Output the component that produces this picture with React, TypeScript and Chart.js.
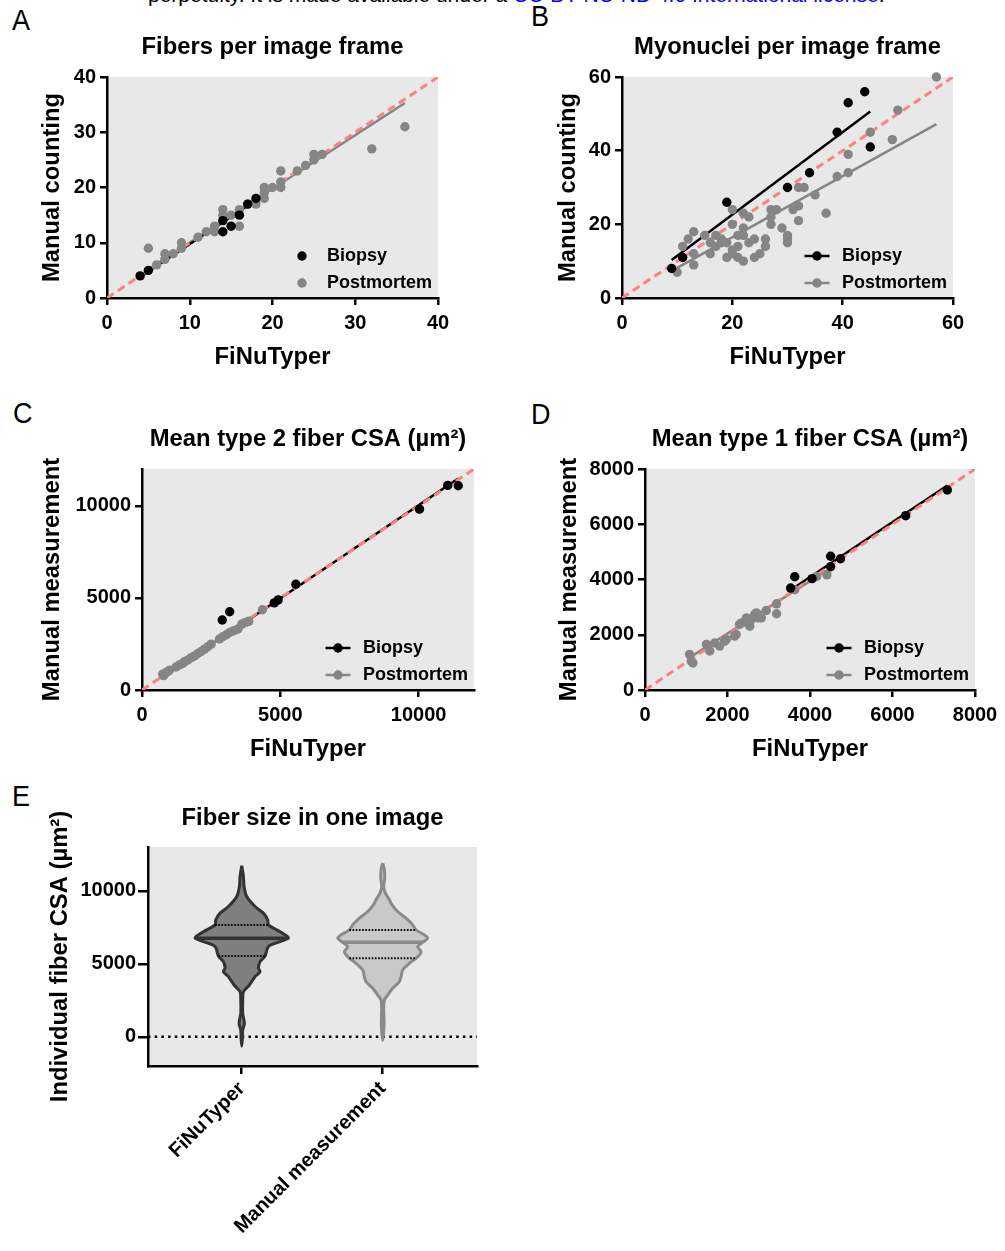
import React, { useEffect, useRef } from "react";
import { Chart, registerables } from "chart.js";

Chart.register(...registerables);

const FONT = "'Liberation Sans', Arial, Helvetica, sans-serif";
const TITLE_SIZE = 23.8;
const TITLE_LH = TITLE_SIZE * 1.2;
const TICK_SIZE = 20;
const LEGEND_SIZE = 18;
const BG = "#e8e8e8";
const BIOPSY_COLOR = "#000000";
const POST_COLOR = "#858585";
const IDENTITY_COLOR = "#ff8080";

// ---------- Panel A: fibers per image frame ----------
const fibersTicks = [0, 10, 20, 30, 40];
const fibersBiopsyX = [4, 5, 14, 14, 15, 16, 17, 18];
const fibersBiopsyY = [4, 5, 14, 12, 13, 15, 17, 18];
const fibersPostX = [5, 6, 7, 7, 8, 9, 9, 11, 12, 13, 13, 14, 14, 15, 16, 16, 17, 18, 19, 19, 19, 20, 21, 21, 21, 23, 24, 25, 25, 26, 32, 36];
const fibersPostY = [9, 6, 8, 7, 8, 10, 9, 11, 12, 13, 12, 16, 15, 15, 16, 13, 17, 17, 18, 20, 19, 20, 20, 21, 23, 23, 24, 26, 25, 26, 27, 31];
const fibersBiopsyFitX = [4, 18];
const fibersBiopsyFitY = [3.8, 17.7];
const fibersPostFitX = [5, 36];
const fibersPostFitY = [5.2, 35.3];

// ---------- Panel B: myonuclei per image frame ----------
const myoTicks = [0, 20, 40, 60];
const myoBiopsyX = [9, 11, 19, 30, 34, 39, 41, 44, 45];
const myoBiopsyY = [8, 11, 26, 30, 34, 45, 53, 56, 41];
const myoPostX = [10, 11, 12, 13, 13, 13, 15, 16, 16, 17, 17, 18, 18, 19, 19, 20, 20, 20, 20, 21, 21, 21, 22, 22, 22, 22, 23, 23, 24, 24, 25, 26, 26, 27, 27, 27, 28, 29, 30, 30, 30, 31, 32, 32, 32, 33, 35, 37, 39, 41, 41, 45, 49, 50, 57];
const myoPostY = [7, 14, 16, 18, 12, 9, 17, 15, 12, 17, 14, 16, 15, 15, 11, 24, 20, 13, 12, 17, 14, 11, 23, 19, 17, 10, 22, 15, 16, 11, 12, 16, 14, 24, 22, 20, 24, 19, 17, 16, 15, 24, 30, 25, 21, 30, 28, 23, 33, 34, 39, 45, 43, 51, 60];
const myoBiopsyFitX = [9, 45];
const myoBiopsyFitY = [10.3, 50.6];
const myoPostFitX = [10, 57];
const myoPostFitY = [8.2, 47.2];

// ---------- Panel C: mean type 2 fiber CSA ----------
const type2Ticks = [0, 5000, 10000];
const type2BiopsyX = [2900, 3170, 4780, 4920, 5560, 10030, 11050, 11430];
const type2BiopsyY = [3800, 4250, 4730, 4890, 5740, 9820, 11110, 11090];
const type2PostX = [750, 780, 870, 930, 990, 1230, 1350, 1470, 1530, 1650, 1780, 1900, 2020, 2140, 2260, 2380, 2500, 2800, 2920, 3050, 3170, 3320, 3470, 3610, 3740, 3860, 4350];
const type2PostY = [860, 780, 950, 1000, 1070, 1250, 1360, 1440, 1530, 1620, 1760, 1850, 1980, 2090, 2220, 2350, 2490, 2770, 2890, 3000, 3130, 3220, 3310, 3580, 3670, 3730, 4360];
const type2BiopsyFitX = [2900, 11430];
const type2BiopsyFitY = [2850, 11480];
const type2PostFitX = [750, 4350];
const type2PostFitY = [740, 4330];

// ---------- Panel D: mean type 1 fiber CSA ----------
const type1Ticks = [0, 2000, 4000, 6000, 8000];
const type1BiopsyX = [3530, 3630, 4050, 4500, 4500, 4740, 6320, 7330];
const type1BiopsyY = [3690, 4100, 4030, 4460, 4840, 4750, 6310, 7240];
const type1PostX = [1080, 1120, 1160, 1490, 1570, 1690, 1810, 1930, 1970, 2170, 2210, 2290, 2340, 2420, 2460, 2540, 2580, 2660, 2700, 2740, 2820, 2940, 3190, 3190, 3630, 4160, 4410];
const type1PostY = [1290, 1050, 980, 1650, 1410, 1700, 1590, 1770, 1830, 1950, 2010, 2370, 2430, 2490, 2610, 2310, 2550, 2730, 2790, 2610, 2610, 2880, 3120, 2760, 3630, 4110, 4170];
const type1BiopsyFitX = [3530, 7330];
const type1BiopsyFitY = [3620, 7400];
const type1PostFitX = [1080, 4410];
const type1PostFitY = [1170, 4330];

// ---------- Panel E: fiber size violins ----------
const violinCategories = ["FiNuTyper", "Manual measurement"];
const violinTicks = [0, 5000, 10000];
const finuLevels = [11715, 10981, 10295, 9608, 8922, 8469, 8009, 7666, 7323, 6980, 6753, 6520, 6177, 5538, 5147, 4694, 4461, 4118, 3548, 3088, 2519, 1606, 920, 460, -110, -638];
const finuDensity = [0, 0.036, 0.05, 0.107, 0.286, 0.464, 0.557, 0.571, 0.75, 0.929, 1, 0.821, 0.571, 0.5, 0.393, 0.357, 0.393, 0.286, 0.164, 0.036, 0.021, 0.021, 0.057, 0.021, 0.014, 0];
const manualLevels = [11898, 11441, 10869, 10297, 9839, 9382, 9039, 8581, 8124, 7666, 7323, 6980, 6751, 6477, 6179, 5836, 5607, 5378, 5035, 4578, 4120, 3777, 3320, 2862, 2519, 1947, 1032, 345, -250];
const manualDensity = [0, 0.036, 0.043, 0.021, 0.057, 0.143, 0.2, 0.321, 0.5, 0.643, 0.714, 0.893, 0.964, 0.857, 0.75, 0.821, 0.786, 0.714, 0.571, 0.429, 0.393, 0.357, 0.214, 0.107, 0.036, 0.021, 0.029, 0.021, 0];
// [value, relative half width]
const finuMedian = [6753, 1];
const finuQuartiles = [[7666, 0.571], [5538, 0.5]];
const manualMedian = [6477, 0.857];
const manualQuartiles = [[7323, 0.714], [5378, 0.714]];

const VIOLIN_HALF = 0.331;

type Box = { left: number; top: number; width: number; height: number };
type Plot = { l: number; t: number; r: number; b: number };
type Geom = { canvas: Box; plot: Plot; titleY: number; yTitleX: number; xTitleY?: number };

const plotBg = {
  id: "plotBg",
  beforeDraw(chart: any) {
    const { ctx, chartArea: a } = chart;
    ctx.save();
    ctx.fillStyle = BG;
    ctx.fillRect(a.left, a.top, a.right - a.left, a.bottom - a.top);
    ctx.restore();
  },
};

const insideLegend = {
  id: "insideLegend",
  afterDatasetsDraw(chart: any, _args: any, opts: any) {
    if (!opts || !opts.show) return;
    const { ctx, chartArea } = chart;
    const items = chart.data.datasets.filter((d: any) => d.label);
    ctx.save();
    ctx.font = `bold ${LEGEND_SIZE}px ${FONT}`;
    ctx.textBaseline = "middle";
    ctx.textAlign = "left";
    items.forEach((d: any, i: number) => {
      const y = chartArea.bottom - 42 + i * 27;
      const mx = chartArea.right - 136;
      if (opts.lines) {
        ctx.strokeStyle = d.backgroundColor;
        ctx.lineWidth = 2.5;
        ctx.beginPath();
        ctx.moveTo(mx - 12.5, y);
        ctx.lineTo(mx + 12.5, y);
        ctx.stroke();
      }
      ctx.fillStyle = d.backgroundColor;
      ctx.beginPath();
      ctx.arc(mx, y, 4.7, 0, Math.PI * 2);
      ctx.fill();
      ctx.fillStyle = "#000";
      ctx.fillText(d.label, chartArea.right - 111, y);
    });
    ctx.restore();
  },
};

const titleFont = { family: FONT, size: TITLE_SIZE, weight: "bold" as const };

function axisCommon(tickValues: number[], fmt: (v: number) => string, pad: number) {
  return {
    afterBuildTicks: (s: any) => {
      s.ticks = tickValues.map((v) => ({ value: v }));
    },
    ticks: {
      color: "#000",
      font: { family: FONT, size: TICK_SIZE, weight: "bold" as const },
      padding: pad,
      autoSkip: false,
      callback: (v: any) => fmt(Number(v)),
    },
    grid: { display: true, drawOnChartArea: false, drawTicks: true, tickLength: 7, color: "#000", lineWidth: 2.5 },
    border: { display: true, color: "#000", width: 2.5 },
  };
}

function frameOptions(g: Geom, title: string, x: any, y: any, xTitle: string | null, yTitle: string, extraPlugins: any) {
  const c = g.canvas;
  const p = g.plot;
  const tTop = g.titleY - TITLE_LH / 2 - c.top;
  const tBottom = p.t - c.top - tTop - TITLE_LH;
  return {
    animation: false,
    responsive: false,
    maintainAspectRatio: false,
    devicePixelRatio: 1,
    events: [],
    layout: { padding: { left: 0, top: 0, bottom: 0, right: c.left + c.width - p.r } },
    plugins: {
      legend: { display: false },
      tooltip: { enabled: false },
      title: { display: true, text: title, fullSize: false, color: "#000", font: titleFont, padding: { top: tTop, bottom: tBottom } },
      ...extraPlugins,
    },
    scales: {
      x: {
        type: "linear",
        position: "bottom",
        ...x,
        afterFit: (s: any) => {
          s.height = c.top + c.height - p.b;
        },
        title: xTitle
          ? {
              display: true,
              text: xTitle,
              color: "#000",
              font: titleFont,
              padding: { top: 0, bottom: c.top + c.height - (g.xTitleY as number) - TITLE_LH / 2 },
            }
          : { display: false },
      },
      y: {
        type: "linear",
        position: "left",
        ...y,
        afterFit: (s: any) => {
          s.width = p.l - c.left;
        },
        title: {
          display: true,
          text: yTitle,
          color: "#000",
          font: titleFont,
          padding: { top: g.yTitleX - c.left - TITLE_LH / 2, bottom: 0 },
        },
      },
    },
  };
}

const zip = (xs: number[], ys: number[]) => xs.map((x, i) => ({ x, y: ys[i] }));

type ScatterSpec = {
  geom: Geom;
  title: string;
  xTitle: string;
  yTitle: string;
  max: number;
  ticks: number[];
  bx: number[];
  by: number[];
  px: number[];
  py: number[];
  bfx: number[];
  bfy: number[];
  pfx: number[];
  pfy: number[];
  legendLines: boolean;
};

function scatterConfig(s: ScatterSpec) {
  const fmt = (v: number) => String(v);
  const datasets = [
    { label: "Biopsy", data: zip(s.bx, s.by), backgroundColor: BIOPSY_COLOR, borderColor: BIOPSY_COLOR, pointRadius: 4.7, pointBorderWidth: 0, showLine: false, order: 0, clip: false },
    { label: "Postmortem", data: zip(s.px, s.py), backgroundColor: POST_COLOR, borderColor: POST_COLOR, pointRadius: 4.7, pointBorderWidth: 0, showLine: false, order: 0, clip: false },
    { data: zip([0, s.max], [0, s.max]), showLine: true, borderColor: IDENTITY_COLOR, borderWidth: 3, borderDash: [8, 5], pointRadius: 0, order: 1 },
    { data: zip(s.bfx, s.bfy), showLine: true, borderColor: BIOPSY_COLOR, borderWidth: 2.5, pointRadius: 0, order: 2 },
    { data: zip(s.pfx, s.pfy), showLine: true, borderColor: POST_COLOR, borderWidth: 2.5, pointRadius: 0, order: 2 },
  ];
  const x = { min: 0, max: s.max, ...axisCommon(s.ticks, fmt, 6) };
  const y = { min: 0, max: s.max, ...axisCommon(s.ticks, fmt, 4) };
  return {
    type: "scatter",
    data: { datasets },
    options: frameOptions(s.geom, s.title, x, y, s.xTitle, s.yTitle, { insideLegend: { show: true, lines: s.legendLines } }),
    plugins: [plotBg, insideLegend],
  };
}

function violinOutline(center: number, levels: number[], density: number[]) {
  const right = levels.map((v, i) => ({ x: center + density[i] * VIOLIN_HALF, y: v }));
  const left = levels.map((v, i) => ({ x: center - density[i] * VIOLIN_HALF, y: v })).reverse();
  return [...right, ...left.slice(1)];
}

function hLine(center: number, value: number, rel: number) {
  return [
    { x: center - rel * VIOLIN_HALF, y: value },
    { x: center + rel * VIOLIN_HALF, y: value },
  ];
}

const violinGeom: Geom = {
  canvas: { left: 20, top: 780, width: 480, height: 471 },
  plot: { l: 148, t: 847, r: 477, b: 1066 },
  titleY: 818,
  yTitleX: 60,
};
const VX_MIN = -0.665;
const VX_MAX = 1.669;

function violinConfig() {
  const datasets: any[] = [
    { data: violinOutline(0, finuLevels, finuDensity), showLine: true, fill: "shape", backgroundColor: "#7f7f7f", borderColor: "#333333", borderWidth: 3, tension: 0.3, pointRadius: 0, order: 3 },
    { data: violinOutline(1, manualLevels, manualDensity), showLine: true, fill: "shape", backgroundColor: "#c9c9c9", borderColor: "#8a8a8a", borderWidth: 3, tension: 0.3, pointRadius: 0, order: 3 },
    { data: hLine(0, finuMedian[0], finuMedian[1]), showLine: true, borderColor: "#333333", borderWidth: 3.5, pointRadius: 0, order: 1 },
    { data: hLine(1, manualMedian[0], manualMedian[1]), showLine: true, borderColor: "#8a8a8a", borderWidth: 3.5, pointRadius: 0, order: 1 },
    ...finuQuartiles.map((q) => ({ data: hLine(0, q[0], q[1]), showLine: true, borderColor: "#000", borderWidth: 2, borderDash: [1.6, 1.6], pointRadius: 0, order: 0 })),
    ...manualQuartiles.map((q) => ({ data: hLine(1, q[0], q[1]), showLine: true, borderColor: "#000", borderWidth: 2, borderDash: [1.6, 1.6], pointRadius: 0, order: 0 })),
    { data: [{ x: VX_MIN, y: 0 }, { x: VX_MAX, y: 0 }], showLine: true, borderColor: "#000", borderWidth: 2.5, borderDash: [2.5, 4.2], pointRadius: 0, order: 5 },
  ];
  const xCommon = axisCommon([0, 1], (v) => violinCategories[v] ?? "", 3);
  const x = {
    min: VX_MIN,
    max: VX_MAX,
    ...xCommon,
    ticks: { ...xCommon.ticks, maxRotation: 45, minRotation: 45 },
    grid: { ...xCommon.grid, tickLength: 8 },
  };
  const yCommon = axisCommon(violinTicks, (v) => String(v), 2);
  const y = { min: -2000, max: 13000, ...yCommon, grid: { ...yCommon.grid, tickLength: 10 } };
  return {
    type: "scatter",
    data: { datasets },
    options: frameOptions(violinGeom, "Fiber size in one image", x, y, null, "Individual fiber CSA (µm²)", {}),
    plugins: [plotBg],
  };
}

function ChartCanvas({ box, make }: { box: Box; make: () => any }) {
  const ref = useRef<HTMLCanvasElement | null>(null);
  useEffect(() => {
    const chart = new Chart(ref.current as HTMLCanvasElement, make());
    return () => chart.destroy();
  }, []);
  return (
    <canvas
      ref={ref}
      width={box.width}
      height={box.height}
      style={{ position: "absolute", left: box.left, top: box.top, width: box.width, height: box.height }}
    />
  );
}

const geomA: Geom = { canvas: { left: 20, top: 20, width: 460, height: 360 }, plot: { l: 107, t: 77, r: 438, b: 298 }, titleY: 47, yTitleX: 52.5, xTitleY: 357 };
const geomB: Geom = { canvas: { left: 530, top: 20, width: 460, height: 360 }, plot: { l: 622, t: 77, r: 953, b: 298 }, titleY: 47, yTitleX: 568.5, xTitleY: 357 };
const geomC: Geom = { canvas: { left: 20, top: 405, width: 470, height: 365 }, plot: { l: 142, t: 469, r: 474, b: 690 }, titleY: 439, yTitleX: 52.5, xTitleY: 749 };
const geomD: Geom = { canvas: { left: 530, top: 405, width: 475, height: 365 }, plot: { l: 645, t: 469, r: 975, b: 690 }, titleY: 439, yTitleX: 569, xTitleY: 749 };

const panelA = () =>
  scatterConfig({ geom: geomA, title: "Fibers per image frame", xTitle: "FiNuTyper", yTitle: "Manual counting", max: 40, ticks: fibersTicks, bx: fibersBiopsyX, by: fibersBiopsyY, px: fibersPostX, py: fibersPostY, bfx: fibersBiopsyFitX, bfy: fibersBiopsyFitY, pfx: fibersPostFitX, pfy: fibersPostFitY, legendLines: false });
const panelB = () =>
  scatterConfig({ geom: geomB, title: "Myonuclei per image frame", xTitle: "FiNuTyper", yTitle: "Manual counting", max: 60, ticks: myoTicks, bx: myoBiopsyX, by: myoBiopsyY, px: myoPostX, py: myoPostY, bfx: myoBiopsyFitX, bfy: myoBiopsyFitY, pfx: myoPostFitX, pfy: myoPostFitY, legendLines: true });
const panelC = () =>
  scatterConfig({ geom: geomC, title: "Mean type 2 fiber CSA (µm²)", xTitle: "FiNuTyper", yTitle: "Manual measurement", max: 12000, ticks: type2Ticks, bx: type2BiopsyX, by: type2BiopsyY, px: type2PostX, py: type2PostY, bfx: type2BiopsyFitX, bfy: type2BiopsyFitY, pfx: type2PostFitX, pfy: type2PostFitY, legendLines: true });
const panelD = () =>
  scatterConfig({ geom: geomD, title: "Mean type 1 fiber CSA (µm²)", xTitle: "FiNuTyper", yTitle: "Manual measurement", max: 8000, ticks: type1Ticks, bx: type1BiopsyX, by: type1BiopsyY, px: type1PostX, py: type1PostY, bfx: type1BiopsyFitX, bfy: type1BiopsyFitY, pfx: type1PostFitX, pfy: type1PostFitY, legendLines: true });

const panelLetters = [
  { ch: "A", x: 12, y: 5 },
  { ch: "B", x: 531, y: 1 },
  { ch: "C", x: 13, y: 398 },
  { ch: "D", x: 531, y: 399 },
  { ch: "E", x: 12, y: 781 },
];

export default function App() {
  return (
    <div style={{ position: "absolute", left: 0, top: 0, width: 1005, height: 1251, overflow: "hidden", background: "#fff", fontFamily: FONT }}>
      <div style={{ position: "absolute", left: 148, top: -16, fontSize: 21, lineHeight: "21px", whiteSpace: "nowrap", color: "#000" }}>
        perpetuity. It is made available under a <span style={{ color: "#0000ff" }}>CC-BY-NC-ND 4.0 International license</span>.
      </div>
      {panelLetters.map((l) => (
        <div
          key={l.ch}
          style={{ position: "absolute", left: l.x, top: l.y, fontSize: 30, lineHeight: "30px", color: "#000", transform: "scaleX(0.9)", transformOrigin: "left top" }}
        >
          {l.ch}
        </div>
      ))}
      <ChartCanvas box={geomA.canvas} make={panelA} />
      <ChartCanvas box={geomB.canvas} make={panelB} />
      <ChartCanvas box={geomC.canvas} make={panelC} />
      <ChartCanvas box={geomD.canvas} make={panelD} />
      <ChartCanvas box={violinGeom.canvas} make={violinConfig} />
    </div>
  );
}
